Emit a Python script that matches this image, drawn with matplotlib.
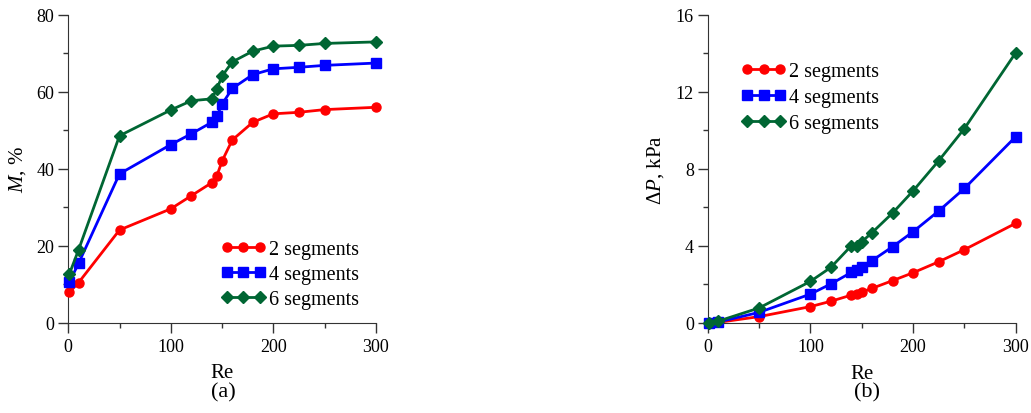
import matplotlib
matplotlib.use("Agg")
import matplotlib.pyplot as plt
from matplotlib.ticker import MultipleLocator

plt.rcParams['font.family'] = ['Liberation Serif', 'DejaVu Serif']
plt.rcParams['mathtext.fontset'] = 'custom'
plt.rcParams['mathtext.rm'] = 'Liberation Serif'
plt.rcParams['mathtext.it'] = 'Liberation Serif:italic'

re = [1, 10, 50, 100, 120, 140, 145, 150, 160, 180, 200, 225, 250, 300]

m2 = [7.9, 10.4, 24.1, 29.6, 33.0, 36.4, 38.2, 42.0, 47.5, 52.1, 54.3, 54.7, 55.4, 56.0]
m4 = [10.5, 15.4, 38.7, 46.3, 49.1, 52.1, 53.7, 56.8, 60.9, 64.5, 66.0, 66.4, 66.9, 67.5]
m6 = [12.6, 18.9, 48.6, 55.3, 57.7, 58.2, 60.8, 64.1, 67.8, 70.6, 71.9, 72.1, 72.6, 73.0]

p2 = [0.0, 0.03, 0.33, 0.85, 1.13, 1.45, 1.52, 1.61, 1.80, 2.20, 2.61, 3.18, 3.81, 5.18]
p4 = [0.0, 0.05, 0.55, 1.50, 2.03, 2.63, 2.75, 2.89, 3.24, 3.96, 4.74, 5.82, 6.99, 9.68]
p6 = [0.0, 0.09, 0.78, 2.16, 2.89, 4.02, 3.99, 4.22, 4.69, 5.71, 6.86, 8.43, 10.10, 14.04]

labels = ['2 segments', '4 segments', '6 segments']
colors = ['#FF0000', '#0000FF', '#006633']
markers = ['o', 's', 'D']
msizes = [6.5, 6.5, 6.0]

fig = plt.figure(figsize=(10.31, 4.14), dpi=100)
ax1 = fig.add_axes([0.0662, 0.2181, 0.2983, 0.7433])
ax2 = fig.add_axes([0.6864, 0.2174, 0.2988, 0.7440])

def style(ax, ymax, ymaj, ymin):
    ax.set_xlim(0, 300)
    ax.set_ylim(0, ymax)
    ax.spines['top'].set_visible(False)
    ax.spines['right'].set_visible(False)
    ax.spines['left'].set_color('#333333')
    ax.spines['bottom'].set_color('#333333')
    ax.xaxis.set_major_locator(MultipleLocator(100))
    ax.xaxis.set_minor_locator(MultipleLocator(50))
    ax.yaxis.set_major_locator(MultipleLocator(ymaj))
    ax.yaxis.set_minor_locator(MultipleLocator(ymin))
    ax.tick_params(which='major', direction='out', length=7, width=1, labelsize=13, color='#333333')
    ax.tick_params(which='minor', direction='out', length=3.5, width=1, color='#333333')
    ax.tick_params(axis='x', which='major', pad=4)
    ax.tick_params(axis='y', which='major', pad=3)
    ax.set_xlabel('Re', fontsize=15)
    ax.xaxis.set_label_coords(0.5, -0.132)

for ys, lab, c, mk, ms in zip([m2, m4, m6], labels, colors, markers, msizes):
    ax1.plot(re, ys, color=c, marker=mk, markersize=ms, linewidth=2, label=lab, clip_on=False, zorder=3)
for ys, lab, c, mk, ms in zip([p2, p4, p6], labels, colors, markers, msizes):
    ax2.plot(re, ys, color=c, marker=mk, markersize=ms, linewidth=2, label=lab, clip_on=False, zorder=3)

style(ax1, 80, 20, 10)
style(ax2, 16, 4, 2)

ax1.set_ylabel(r'$\it{M}$, %', fontsize=15)
ax1.yaxis.set_label_coords(-0.131, 0.5)
ax2.set_ylabel(r'$\Delta\it{P}$, kPa', fontsize=15)
ax2.yaxis.set_label_coords(-0.135, 0.5)

legkw = dict(numpoints=3, frameon=False, fontsize=14.5, handlelength=2.25, handletextpad=0.15,
             borderaxespad=0, borderpad=0)
ax1.legend(loc='upper left', bbox_to_anchor=(0.496, 0.269), labelspacing=0.3, **legkw)
ax2.legend(loc='upper left', bbox_to_anchor=(0.108, 0.847), labelspacing=0.33, **legkw)

fig.text(0.2165, 0.05, '(a)', fontsize=16, ha='center', va='center')
fig.text(0.841, 0.05, '(b)', fontsize=16, ha='center', va='center')

fig.savefig('out.png', dpi=100)
